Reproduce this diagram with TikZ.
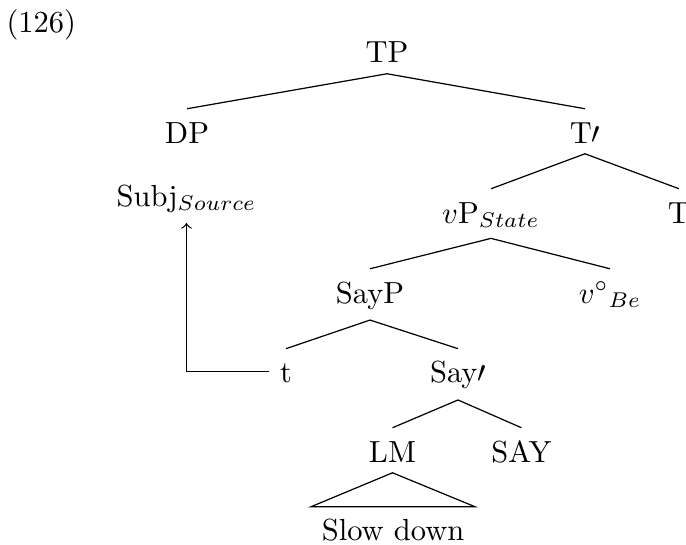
\documentclass[tikz,border=0pt]{standalone}
\usepackage{tikz}

\begin{document}
\begin{tikzpicture}[treenode/.style={anchor=base,text height=7.7pt}]
  \useasboundingbox (0,0) rectangle (7.905,-6.269);

  % Example number
  \node[anchor=base west,inner sep=0pt] (num) at (0.069,-0.369) {(126)};

  % Nodes of the tree
  \node[treenode] (tp) at (4.460,-0.726) {TP};
  \node[treenode] (dp) at (2.155,-1.648) {DP};
  \node[treenode] (tbar) at (6.741,-1.648) {T$\prime$};
  \node[treenode] (subj) at (2.149,-2.374) {Subj$_{Source}$};
  \node[treenode] (vp) at (5.658,-2.570) {$v$P$_{State}$};
  \node[treenode] (t) at (7.824,-2.570) {T};
  \node[treenode] (sayp) at (4.264,-3.492) {SayP};
  \node[treenode] (vbe) at (7.029,-3.492) {$v^{\circ}{}_{Be}$};
  \node[treenode] (trace) at (3.296,-4.413) {t};
  \node[treenode] (saybar) at (5.278,-4.413) {Say$\prime$};
  \node[treenode] (lm) at (4.523,-5.324) {LM};
  \node[treenode] (say) at (6.009,-5.324) {SAY};
  \node[treenode] (slow) at (4.529,-6.234) {Slow down};

  % Branches
  \draw (tp.south) -- (dp.north);
  \draw (tp.south) -- (tbar.north);
  \draw (tbar.south) -- (vp.north);
  \draw (tbar.south) -- (t.north);
  \draw (vp.south) -- (sayp.north);
  \draw (vp.south) -- (vbe.north);
  \draw (sayp.south) -- (trace.north);
  \draw (sayp.south) -- (saybar.north);
  \draw (saybar.south) -- (lm.north);
  \draw (saybar.south) -- (say.north);
  \draw (lm.south) -- (slow.north west) -- (slow.north east) -- cycle;

  % Movement of the subject
  \draw[->] (trace.west) -| (subj.south);
\end{tikzpicture}
\end{document}
